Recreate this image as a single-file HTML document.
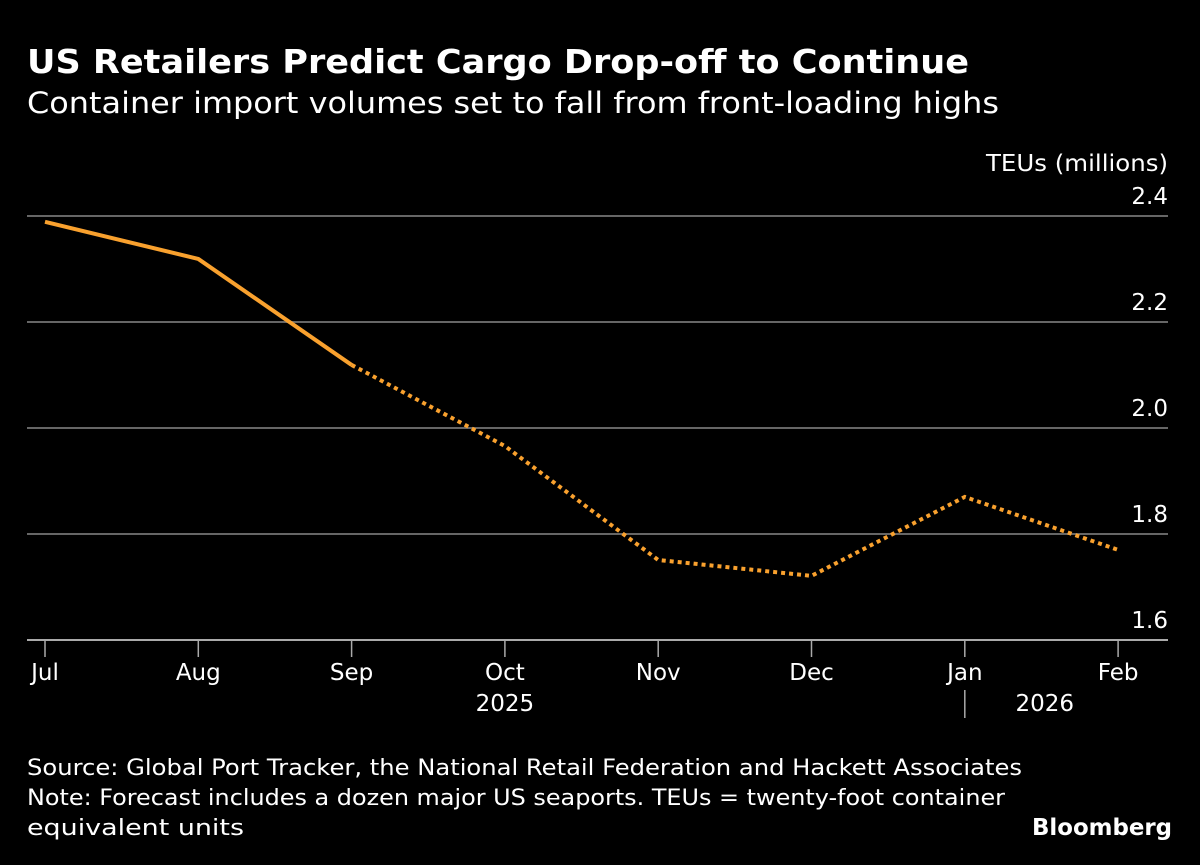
<!DOCTYPE html>
<html><head><meta charset="utf-8"><style>
html,body{margin:0;padding:0;background:#000;}
svg{display:block;}
text{font-family:"DejaVu Sans","Liberation Sans",sans-serif;fill:#fff;}
</style></head><body>
<svg id="chart" width="1200" height="865" viewBox="0 0 1200 865">
<rect width="1200" height="865" fill="#000"/>
<text x="27" y="73" font-size="33" font-weight="bold" textLength="942" lengthAdjust="spacingAndGlyphs">US Retailers Predict Cargo Drop-off to Continue</text>
<text x="27" y="113" font-size="29" textLength="972" lengthAdjust="spacingAndGlyphs">Container import volumes set to fall from front-loading highs</text>
<text x="1168" y="171" font-size="23" text-anchor="end" textLength="182" lengthAdjust="spacingAndGlyphs">TEUs (millions)</text>
<g id="grid"></g>
<g id="xaxis"></g>
<g id="series"></g>
<text x="27" y="775" font-size="22" textLength="995" lengthAdjust="spacingAndGlyphs">Source: Global Port Tracker, the National Retail Federation and Hackett Associates</text>
<text x="27" y="805" font-size="22" textLength="978" lengthAdjust="spacingAndGlyphs">Note: Forecast includes a dozen major US seaports. TEUs = twenty-foot container</text>
<text x="27" y="835" font-size="22" textLength="217" lengthAdjust="spacingAndGlyphs">equivalent units</text>
<text x="1172" y="835" font-size="23" font-weight="bold" text-anchor="end" textLength="140" lengthAdjust="spacingAndGlyphs">Bloomberg</text>
</svg>
<script>
const months = ["Jul","Aug","Sep","Oct","Nov","Dec","Jan","Feb"];
const actualValues = [2.389, 2.319, 2.119];
const forecastValues = [2.119, 1.966, 1.751, 1.721, 1.870, 1.770];
const yTicks = [2.4, 2.2, 2.0, 1.8, 1.6];
const yTickLabels = ["2.4","2.2","2.0","1.8","1.6"];
const yearLabels = ["2025","2026"];

const NS="http://www.w3.org/2000/svg";
const x0=45, dx=153.3, yTop=216, yBot=640, vTop=2.4, vBot=1.6;
const xS=i=>x0+i*dx;
const yS=v=>yBot-(v-vBot)/(vTop-vBot)*(yBot-yTop);
function mk(tag,attrs,parent,txt){const e=document.createElementNS(NS,tag);for(const k in attrs)e.setAttribute(k,attrs[k]);if(txt!==undefined)e.textContent=txt;parent.appendChild(e);return e;}
const grid=document.getElementById('grid'),xa=document.getElementById('xaxis'),se=document.getElementById('series');
yTicks.forEach((v,i)=>{
  const l=mk('line',{x1:27,x2:1168,y1:yS(v),y2:yS(v),stroke:i===yTicks.length-1?'#aaa':'#666','stroke-width':2},grid);
  
  
  const t=mk('text',{x:1168,y:yS(v)-12,'font-size':23,'text-anchor':'end'},grid,yTickLabels[i]);
  
  
});
months.forEach((m,i)=>{
  const tk=mk('line',{x1:xS(i),x2:xS(i),y1:641,y2:657,stroke:'#aaa','stroke-width':1.5},xa);
  
  
  const t=mk('text',{x:xS(i),y:680,'font-size':23,'text-anchor':'middle'},xa,m);
  
  
});
const y1=mk('text',{x:xS(3),y:711,'font-size':23,'text-anchor':'middle',fill:'#aaa'},xa,yearLabels[0]);


const sep=mk('line',{x1:xS(6),x2:xS(6),y1:690,y2:718,stroke:'#aaa','stroke-width':1.5},xa);


const y2=mk('text',{x:xS(6)+80,y:711,'font-size':23,'text-anchor':'middle',fill:'#aaa'},xa,yearLabels[1]);


const pa=mk('polyline',{points:actualValues.map((v,i)=>xS(i)+','+yS(v)).join(' '),fill:'none',stroke:'#f9a12e','stroke-width':4,'stroke-linejoin':'round'},se);


const off=actualValues.length-1;
const pf=mk('polyline',{points:forecastValues.map((v,i)=>xS(i+off)+','+yS(v)).join(' '),fill:'none',stroke:'#f9a12e','stroke-width':4,'stroke-dasharray':'4 4'},se);


</script>
</body></html>
